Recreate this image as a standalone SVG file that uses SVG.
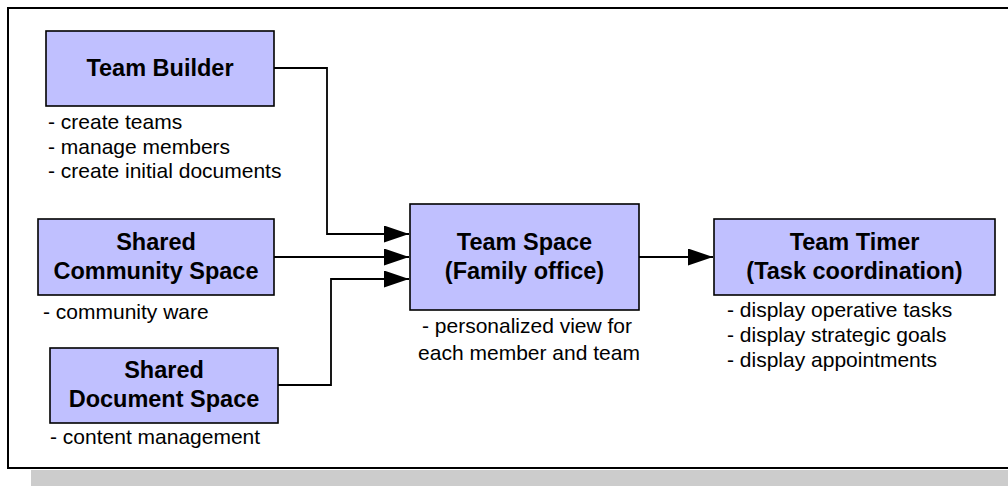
<svg xmlns="http://www.w3.org/2000/svg" width="1008" height="486" viewBox="0 0 1008 486">
  <style>
    .box { fill: #C0C0FF; stroke: #000; stroke-width: 1.6; }
    .title { font-family: "Liberation Sans", Arial, sans-serif; font-size: 23.5px; font-weight: bold; fill: #000; text-anchor: middle; }
    .note { font-family: "Liberation Sans", Arial, sans-serif; font-size: 21px; fill: #000; }
    .wire { fill: none; stroke: #000; stroke-width: 1.8; }
  </style>
  <defs>
    <marker id="arrow" markerUnits="userSpaceOnUse" markerWidth="26" markerHeight="18" refX="25" refY="8.5" orient="auto">
      <polygon points="0,0 25,8.5 0,17" fill="#000"/>
    </marker>
  </defs>

  <!-- drop shadow and frame -->
  <rect x="31" y="470" width="990" height="20" fill="#CCCCCC"/>
  <rect x="8" y="8" width="1010" height="460" fill="#FFFFFF" stroke="#000" stroke-width="2"/>

  <!-- connectors -->
  <g id="connectors">
    <polyline class="wire" points="274,68 327,68 327,234 409,234" marker-end="url(#arrow)"/>
    <polyline class="wire" points="274,257 409,257" marker-end="url(#arrow)"/>
    <polyline class="wire" points="278,385 331,385 331,279 409,279" marker-end="url(#arrow)"/>
    <polyline class="wire" points="639,257 713,257" marker-end="url(#arrow)"/>
  </g>

  <g id="team-builder">
    <rect class="box" x="46" y="31" width="228" height="75"/>
    <text class="title" x="160" y="76">Team Builder</text>
    <text class="note" x="48" y="129">- create teams</text>
    <text class="note" x="48" y="153.5">- manage members</text>
    <text class="note" x="48" y="178">- create initial documents</text>
  </g>

  <g id="shared-community-space">
    <rect class="box" x="38" y="219" width="236" height="76"/>
    <text class="title" x="156" y="250">Shared</text>
    <text class="title" x="156" y="279">Community Space</text>
    <text class="note" x="43" y="319">- community ware</text>
  </g>

  <g id="shared-document-space">
    <rect class="box" x="50" y="348" width="228" height="75"/>
    <text class="title" x="164" y="378">Shared</text>
    <text class="title" x="164" y="407">Document Space</text>
    <text class="note" x="50" y="444">- content management</text>
  </g>

  <g id="team-space">
    <rect class="box" x="410" y="204" width="229" height="106"/>
    <text class="title" x="524.5" y="250">Team Space</text>
    <text class="title" x="524.5" y="279">(Family office)</text>
    <text class="note" x="527" y="333" text-anchor="middle">- personalized view for</text>
    <text class="note" x="529" y="360" text-anchor="middle">each member and team</text>
  </g>

  <g id="team-timer">
    <rect class="box" x="714" y="219" width="281" height="76"/>
    <text class="title" x="854.5" y="250">Team Timer</text>
    <text class="title" x="854.5" y="279">(Task coordination)</text>
    <text class="note" x="727" y="317">- display operative tasks</text>
    <text class="note" x="727" y="342">- display strategic goals</text>
    <text class="note" x="727" y="367">- display appointments</text>
  </g>
</svg>
